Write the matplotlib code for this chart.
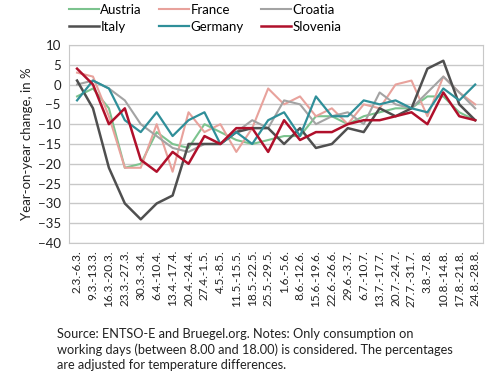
import matplotlib.pyplot as plt
import numpy as np

plt.rcParams['font.family'] = ['Lato', 'DejaVu Sans']

# weekly periods
weeks = ['2.3.-6.3.', '9.3.-13.3.', '16.3.-20.3.', '23.3.-27.3.', '30.3.-3.4.',
         '6.4.-10.4.', '13.4.-17.4.', '20.4.-24.4.', '27.4.-1.5.', '4.5.-8.5.',
         '11.5.-15.5.', '18.5.-22.5.', '25.5.-29.5.', '1.6.-5.6.', '8.6.-12.6.',
         '15.6.-19.6.', '22.6.-26.6.', '29.6.-3.7.', '6.7.-10.7.', '13.7.-17.7.',
         '20.7.-24.7.', '27.7.-31.7.', '3.8.-7.8.', '10.8.-14.8.', '17.8.-21.8.',
         '24.8.-28.8.']

austria = [-3, -1, -6, -21, -20, -12, -15, -16, -10, -12, -14, -15, -14,
           -13, -13, -8, -8, -10, -8, -7, -6, -6, -3, -3, -7, -9]
france = [3, 2, -8, -21, -21, -10, -22, -7, -12, -10, -17, -11, -1,
          -5, -3, -8, -6, -10, -5, -6, 0, 1, -8, 2, -2, -5]
croatia = [0, 1, -1, -4, -10, -13, -16, -17, -15, -15, -12, -9, -11,
           -4, -5, -10, -8, -7, -10, -2, -5, -6, -2, 2, -2, -6]
italy = [1, -6, -21, -30, -34, -30, -28, -15, -15, -15, -12, -11, -11,
         -15, -11, -16, -15, -11, -12, -6, -8, -6, 4, 6, -5, -9]
germany = [-4, 1, -1, -9, -12, -7, -13, -9, -7, -15, -12, -15, -9,
           -7, -13, -3, -8, -8, -4, -5, -4, -6, -7, -1, -4, 0]
slovenia = [4, 0, -10, -6, -19, -22, -17, -20, -13, -15, -11, -11, -17,
            -9, -14, -12, -12, -10, -9, -9, -8, -7, -10, -2, -8, -9]

fig = plt.figure(figsize=(4.9, 3.74), dpi=100)
ax = fig.add_axes([0.141, 0.350, 0.845, 0.530])

x = np.arange(len(weeks))
series = {
    'Austria': (austria, '#7cc38e', 1.5),
    'France': (france, '#e8a29c', 1.5),
    'Croatia': (croatia, '#a3a3a3', 1.5),
    'Italy': (italy, '#4f4f4f', 1.8),
    'Germany': (germany, '#2f8f99', 1.6),
    'Slovenia': (slovenia, '#b0102b', 1.8),
}
lines = {}
for name, (vals, col, lw) in series.items():
    lines[name], = ax.plot(x, vals, color=col, lw=lw, label=name)

ax.set_xlim(-0.5, len(weeks) - 0.5)
ax.set_ylim(-40, 10)
ax.set_yticks(np.arange(-40, 11, 5))
ax.yaxis.grid(True, color='#c8c8c8', lw=1)
ax.set_axisbelow(True)
for s in ax.spines.values():
    s.set_color('#c8c8c8')
ax.tick_params(length=0, labelsize=9.5, colors='#222222')
ax.set_xticks(x)
ax.set_xticklabels(weeks, rotation=90, fontsize=8.5)
ax.tick_params(axis='x', pad=5)
ax.tick_params(axis='y', pad=6)
ax.set_ylabel('Year-on-year change, in %', fontsize=9.5, color='#222222', labelpad=3)

# legend filled row by row (matplotlib fills columns first)
order = ['Austria', 'Italy', 'France', 'Germany', 'Croatia', 'Slovenia']
fig.legend([lines[n] for n in order], order, loc='upper left',
           bbox_to_anchor=(0.14, 0.99), ncol=3, frameon=False,
           fontsize=9.5, handlelength=2.3, handletextpad=0.1, columnspacing=1.3,
           labelspacing=0.4, borderaxespad=0, borderpad=0)

fig.text(0.117, 0.008,
         'Source: ENTSO-E and Bruegel.org. Notes: Only consumption on\n'
         'working days (between 8.00 and 18.00) is considered. The percentages\n'
         'are adjusted for temperature differences.',
         fontsize=9.2, color='#222222', va='bottom', ha='left', linespacing=1.3)

fig.savefig('out.png', dpi=100)
